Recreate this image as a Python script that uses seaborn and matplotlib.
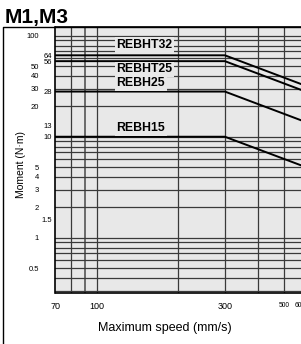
import numpy as np
import matplotlib.pyplot as plt
import pandas as pd
import seaborn as sns
from matplotlib.lines import Line2D

# data
speed = [70, 300, 700]
series = ['REBHT32', 'REBHT25', 'REBH25', 'REBH15']
moment_rebht32 = [64, 64, 27.4]
moment_rebht25 = [56, 56, 24]
moment_rebh25 = [28, 28, 12]
moment_rebh15 = [10, 10, 4.3]

# tick labels, two columns on the y axis as in the catalogue
yticks_left = [0.5, 1, 2, 3, 4, 5, 20, 30, 40, 50, 100]
ylabels_left = ['0.5', '1', '2', '3', '4', '5', '20', '30', '40', '50', '100']
yticks_right = [1.5, 10, 13, 28, 56, 64]
ylabels_right = ['1.5', '10', '13', '28', '56', '64']
xticks = [70, 100, 300, 500, 600]
xlabels = ['70', '100', '300', '500', '600']

grid_x = [80, 90, 100, 200, 300, 400, 500, 600]
grid_y = [0.3, 0.4, 0.5, 0.6, 0.7, 0.8, 0.9, 1, 2, 3, 4, 5, 6, 7, 8, 9,
          10, 20, 30, 40, 50, 60, 70, 80, 90, 100]

# label anchor (speed, moment) for each curve name
label_x = 118
label_y = [81, 46.4, 33.8, 12.1]

df = pd.DataFrame({
    'speed': speed * 4,
    'moment': moment_rebht32 + moment_rebht25 + moment_rebh25 + moment_rebh15,
    'series': sum([[s] * len(speed) for s in series], []),
})

sns.set_style('white')
plt.rcParams['font.family'] = ['Liberation Sans', 'DejaVu Sans']
plt.rcParams['text.color'] = 'black'
plt.rcParams['axes.labelcolor'] = 'black'
plt.rcParams['xtick.color'] = 'black'
plt.rcParams['ytick.color'] = 'black'

fig = plt.figure(figsize=(3.01, 3.44), dpi=100)
ax = fig.add_axes([55.5 / 301, 1 - 292.5 / 344, 268 / 301, 265.5 / 344])
ax.set_facecolor('#e8e8e8')

for gx in grid_x:
    if gx == 90:
        ax.axvline(gx, color='#6a6a6a', lw=1.4, zorder=1)
    else:
        ax.axvline(gx, color='#3a3a3a', lw=0.9, zorder=1)
for gy in grid_y:
    ax.axhline(gy, color='#3a3a3a', lw=0.9, zorder=1)

sns.lineplot(data=df, x='speed', y='moment', hue='series',
             palette={s: 'black' for s in series}, legend=False,
             lw=1.4, ax=ax, zorder=3)

ax.set_xscale('log')
ax.set_yscale('log')
ax.set_xlim(70, 700)
ax.set_ylim(0.287, 122)

ax.set_xticks(xticks, xlabels)
ax.set_xticks([], minor=True)
ax.set_yticks(yticks_left, ylabels_left)
ax.set_yticks(yticks_right, ylabels_right, minor=True)
ax.tick_params(axis='x', which='both', length=0, pad=7, labelsize=6.5)
ax.tick_params(axis='y', which='major', length=0, pad=12, labelsize=5.5)
ax.tick_params(axis='y', which='minor', length=0, pad=2.5, labelsize=5.5)
for t in ax.get_xticklabels():
    if t.get_text() in ('500', '600'):
        t.set_fontsize(4.8)
    if t.get_text() == '600':
        t.set_horizontalalignment('right')

for name, y in zip(series, label_y):
    ax.text(label_x, y, name, fontsize=8.8, fontweight='bold', va='center',
            ha='left', zorder=4,
            bbox=dict(facecolor='#e8e8e8', edgecolor='none', pad=1.2))

ax.set_xlabel('Maximum speed (mm/s)', fontsize=9)
ax.xaxis.set_label_coords((164.7 - 55.5) / 268, -(322 - 292.5) / 265.5)
ax.set_ylabel('Moment (N·m)', fontsize=7.5)
ax.yaxis.set_label_coords((26 - 55.5) / 268, (292.5 - 164) / 265.5)

for side in ['left', 'bottom', 'top']:
    ax.spines[side].set_color('black')
    ax.spines[side].set_linewidth(1.2)

fig.text(5 / 301, 1 - 23 / 344, 'M1,M3', fontsize=15, fontweight='bold',
         va='baseline', ha='left')

# outer frame of the catalogue panel
fig.add_artist(Line2D([3 / 301, 3 / 301, 1.0], [0, 1 - 27 / 344, 1 - 27 / 344],
                      transform=fig.transFigure, color='black', lw=1))

fig.savefig('out.png', dpi=100)
